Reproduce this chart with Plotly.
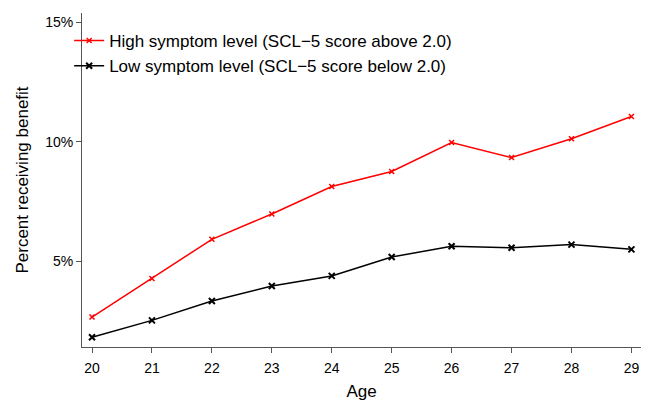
import plotly.graph_objects as go

ages = [20, 21, 22, 23, 24, 25, 26, 27, 28, 29]
high_symptom = [2.67, 4.28, 5.92, 6.98, 8.13, 8.76, 9.97, 9.34, 10.13, 11.06]
low_symptom = [1.82, 2.53, 3.34, 3.97, 4.39, 5.18, 5.63, 5.57, 5.70, 5.50]
y_tickvals = [5, 10, 15]
y_ticktext = ["5%", "10%", "15%"]

FONT = "Liberation Sans, Arial, sans-serif"

fig = go.Figure()
fig.add_trace(go.Scatter(
    x=ages, y=high_symptom, mode="lines+markers",
    name="High symptom level (SCL\u22125 score above 2.0)",
    line=dict(color="#ff0000", width=1.5),
    marker=dict(symbol="x-thin", size=5, color="#ff0000", line=dict(color="#ff0000", width=1.5)),
))
fig.add_trace(go.Scatter(
    x=ages, y=low_symptom, mode="lines+markers",
    name="Low symptom level (SCL\u22125 score below 2.0)",
    line=dict(color="#000000", width=1.5),
    marker=dict(symbol="x-thin", size=6, color="#000000", line=dict(color="#000000", width=2)),
))

# page body has an 8px default margin; size figure so plot area lands where the reference has it
fig.update_layout(
    width=642, height=393,
    margin=dict(l=74, r=9, t=5, b=54),
    paper_bgcolor="white", plot_bgcolor="white",
    font=dict(family=FONT, color="#000000", size=14),
    showlegend=True,
    legend=dict(x=-0.023, y=0.97, xanchor="left", yanchor="top",
                font=dict(size=17), bgcolor="rgba(0,0,0,0)",
                tracegroupgap=0, itemwidth=30),
    xaxis=dict(range=[19.833, 29.16], tickvals=ages, showgrid=False, zeroline=False,
               showline=True, linecolor="#555555", linewidth=1,
               ticks="outside", ticklen=5, tickcolor="#555555",
               tickfont=dict(size=14), ticklabelstandoff=3, automargin=False,
               title=dict(text="Age", font=dict(size=17), standoff=12)),
    yaxis=dict(range=[1.415, 15.39], tickvals=y_tickvals, ticktext=y_ticktext,
               showgrid=False, zeroline=False, automargin=False,
               showline=True, linecolor="#555555", linewidth=1,
               ticks="outside", ticklen=5, tickcolor="#555555",
               tickfont=dict(size=14),
               title=dict(text="Percent receiving benefit", font=dict(size=17), standoff=12)),
)

fig.write_html("out.html")
